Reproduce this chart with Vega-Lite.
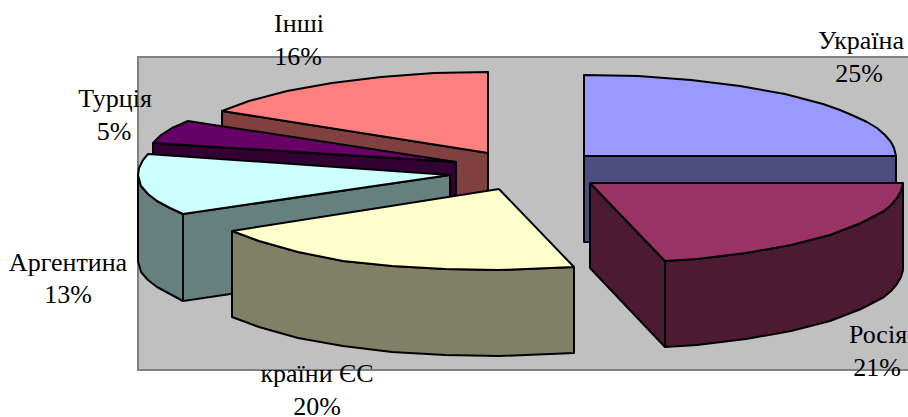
{"$schema":"https://vega.github.io/schema/vega-lite/v6.json","width":908,"height":417,"padding":0,"autosize":{"type":"none"},"background":"white","view":{"stroke":null},
"datasets":{"panel":[{"x":138,"x2":909,"y":57,"y2":370}],
"faces":[
{"face":"Україна бік","i":0,"x":584,"y":156},{"face":"Україна бік","i":1,"x":896,"y":156},{"face":"Україна бік","i":2,"x":896,"y":243},{"face":"Україна бік","i":3,"x":584,"y":242},{"face":"Україна бік","i":4,"x":584,"y":156},
{"face":"Україна верх","i":0,"x":584,"y":156},{"face":"Україна верх","i":1,"x":584,"y":75},{"face":"Україна верх","i":2,"x":638,"y":76},{"face":"Україна верх","i":3,"x":691,"y":80},{"face":"Україна верх","i":4,"x":740,"y":86},{"face":"Україна верх","i":5,"x":785,"y":94},{"face":"Україна верх","i":6,"x":823,"y":104},{"face":"Україна верх","i":7,"x":840,"y":110},{"face":"Україна верх","i":8,"x":854,"y":116},{"face":"Україна верх","i":9,"x":867,"y":122},{"face":"Україна верх","i":10,"x":877,"y":128},{"face":"Україна верх","i":11,"x":885,"y":135},{"face":"Україна верх","i":12,"x":891,"y":142},{"face":"Україна верх","i":13,"x":894,"y":148},{"face":"Україна верх","i":14,"x":896,"y":156},{"face":"Україна верх","i":15,"x":584,"y":156},
{"face":"Інші бік","i":0,"x":222,"y":111},{"face":"Інші бік","i":1,"x":488,"y":153},{"face":"Інші бік","i":2,"x":488,"y":205},{"face":"Інші бік","i":3,"x":222,"y":165},{"face":"Інші бік","i":4,"x":222,"y":111},
{"face":"Інші верх","i":0,"x":488,"y":153},{"face":"Інші верх","i":1,"x":488,"y":72},{"face":"Інші верх","i":2,"x":434,"y":73},{"face":"Інші верх","i":3,"x":381,"y":77},{"face":"Інші верх","i":4,"x":332,"y":83},{"face":"Інші верх","i":5,"x":287,"y":91},{"face":"Інші верх","i":6,"x":249,"y":101},{"face":"Інші верх","i":7,"x":222,"y":111},{"face":"Інші верх","i":8,"x":488,"y":153},
{"face":"Турція бік","i":0,"x":153,"y":143},{"face":"Турція бік","i":1,"x":456,"y":162},{"face":"Турція бік","i":2,"x":456,"y":205},{"face":"Турція бік","i":3,"x":153,"y":186},{"face":"Турція бік","i":4,"x":153,"y":143},
{"face":"Турція верх","i":0,"x":456,"y":162},{"face":"Турція верх","i":1,"x":188,"y":121},{"face":"Турція верх","i":2,"x":172,"y":128},{"face":"Турція верх","i":3,"x":161,"y":135},{"face":"Турція верх","i":4,"x":153,"y":143},{"face":"Турція верх","i":5,"x":456,"y":162},
{"face":"Аргентина бік","i":0,"x":138,"y":175},{"face":"Аргентина бік","i":1,"x":141,"y":186},{"face":"Аргентина бік","i":2,"x":148,"y":194},{"face":"Аргентина бік","i":3,"x":157,"y":201},{"face":"Аргентина бік","i":4,"x":170,"y":208},{"face":"Аргентина бік","i":5,"x":183,"y":214},{"face":"Аргентина бік","i":6,"x":183,"y":301},{"face":"Аргентина бік","i":7,"x":170,"y":294},{"face":"Аргентина бік","i":8,"x":157,"y":287},{"face":"Аргентина бік","i":9,"x":148,"y":280},{"face":"Аргентина бік","i":10,"x":141,"y":272},{"face":"Аргентина бік","i":11,"x":138,"y":261},{"face":"Аргентина бік","i":12,"x":138,"y":175},
{"face":"Аргентина перед","i":0,"x":183,"y":214},{"face":"Аргентина перед","i":1,"x":450,"y":175},{"face":"Аргентина перед","i":2,"x":450,"y":262},{"face":"Аргентина перед","i":3,"x":183,"y":301},{"face":"Аргентина перед","i":4,"x":183,"y":214},
{"face":"Аргентина верх","i":0,"x":450,"y":175},{"face":"Аргентина верх","i":1,"x":148,"y":154},{"face":"Аргентина верх","i":2,"x":143,"y":160},{"face":"Аргентина верх","i":3,"x":139,"y":168},{"face":"Аргентина верх","i":4,"x":138,"y":175},{"face":"Аргентина верх","i":5,"x":141,"y":186},{"face":"Аргентина верх","i":6,"x":148,"y":194},{"face":"Аргентина верх","i":7,"x":157,"y":201},{"face":"Аргентина верх","i":8,"x":170,"y":208},{"face":"Аргентина верх","i":9,"x":183,"y":214},{"face":"Аргентина верх","i":10,"x":450,"y":175},
{"face":"ЄС бік","i":0,"x":232,"y":231},{"face":"ЄС бік","i":1,"x":259,"y":241},{"face":"ЄС бік","i":2,"x":298,"y":252},{"face":"ЄС бік","i":3,"x":343,"y":261},{"face":"ЄС бік","i":4,"x":392,"y":266},{"face":"ЄС бік","i":5,"x":445,"y":269},{"face":"ЄС бік","i":6,"x":499,"y":270},{"face":"ЄС бік","i":7,"x":574,"y":267},{"face":"ЄС бік","i":8,"x":574,"y":353},{"face":"ЄС бік","i":9,"x":499,"y":356},{"face":"ЄС бік","i":10,"x":445,"y":355},{"face":"ЄС бік","i":11,"x":392,"y":352},{"face":"ЄС бік","i":12,"x":343,"y":346},{"face":"ЄС бік","i":13,"x":298,"y":338},{"face":"ЄС бік","i":14,"x":259,"y":327},{"face":"ЄС бік","i":15,"x":232,"y":317},{"face":"ЄС бік","i":16,"x":232,"y":231},
{"face":"ЄС верх","i":0,"x":499,"y":189},{"face":"ЄС верх","i":1,"x":232,"y":231},{"face":"ЄС верх","i":2,"x":259,"y":241},{"face":"ЄС верх","i":3,"x":298,"y":252},{"face":"ЄС верх","i":4,"x":343,"y":261},{"face":"ЄС верх","i":5,"x":392,"y":266},{"face":"ЄС верх","i":6,"x":445,"y":269},{"face":"ЄС верх","i":7,"x":499,"y":270},{"face":"ЄС верх","i":8,"x":574,"y":267},{"face":"ЄС верх","i":9,"x":499,"y":189},
{"face":"Росія лівий бік","i":0,"x":590,"y":183},{"face":"Росія лівий бік","i":1,"x":665,"y":261},{"face":"Росія лівий бік","i":2,"x":665,"y":347},{"face":"Росія лівий бік","i":3,"x":590,"y":268},{"face":"Росія лівий бік","i":4,"x":590,"y":183},
{"face":"Росія бік","i":0,"x":903,"y":183},{"face":"Росія бік","i":1,"x":901,"y":191},{"face":"Росія бік","i":2,"x":897,"y":198},{"face":"Росія бік","i":3,"x":891,"y":205},{"face":"Росія бік","i":4,"x":884,"y":211},{"face":"Росія бік","i":5,"x":861,"y":223},{"face":"Росія бік","i":6,"x":830,"y":235},{"face":"Росія бік","i":7,"x":791,"y":245},{"face":"Росія бік","i":8,"x":746,"y":253},{"face":"Росія бік","i":9,"x":697,"y":259},{"face":"Росія бік","i":10,"x":665,"y":261},{"face":"Росія бік","i":11,"x":665,"y":347},{"face":"Росія бік","i":12,"x":697,"y":345},{"face":"Росія бік","i":13,"x":746,"y":339},{"face":"Росія бік","i":14,"x":791,"y":331},{"face":"Росія бік","i":15,"x":830,"y":321},{"face":"Росія бік","i":16,"x":861,"y":309},{"face":"Росія бік","i":17,"x":884,"y":297},{"face":"Росія бік","i":18,"x":891,"y":291},{"face":"Росія бік","i":19,"x":897,"y":284},{"face":"Росія бік","i":20,"x":901,"y":277},{"face":"Росія бік","i":21,"x":903,"y":270},{"face":"Росія бік","i":22,"x":903,"y":183},
{"face":"Росія верх","i":0,"x":590,"y":183},{"face":"Росія верх","i":1,"x":903,"y":183},{"face":"Росія верх","i":2,"x":901,"y":191},{"face":"Росія верх","i":3,"x":897,"y":198},{"face":"Росія верх","i":4,"x":891,"y":205},{"face":"Росія верх","i":5,"x":884,"y":211},{"face":"Росія верх","i":6,"x":861,"y":223},{"face":"Росія верх","i":7,"x":830,"y":235},{"face":"Росія верх","i":8,"x":791,"y":245},{"face":"Росія верх","i":9,"x":746,"y":253},{"face":"Росія верх","i":10,"x":697,"y":259},{"face":"Росія верх","i":11,"x":665,"y":261},{"face":"Росія верх","i":12,"x":590,"y":183}
],
"labels":[{"t":"Інші","x":299,"y":32},{"t":"16%","x":298,"y":65},{"t":"Україна","x":861,"y":49},{"t":"25%","x":859,"y":82},{"t":"Турція","x":115,"y":107},{"t":"5%","x":114,"y":140},{"t":"Аргентина","x":68,"y":271},{"t":"13%","x":68,"y":303},{"t":"Росія","x":878,"y":343},{"t":"21%","x":877,"y":376},{"t":"країни ЄС","x":317,"y":382},{"t":"20%","x":317,"y":415}]},
"layer":[
{"data":{"name":"panel"},"mark":{"type":"rect","fill":"#C0C0C0","stroke":"#808080","strokeWidth":2},"encoding":{"x":{"field":"x","type":"quantitative","scale":{"domain":[0,908],"range":[0,908]},"axis":null},"x2":{"field":"x2"},"y":{"field":"y","type":"quantitative","scale":{"domain":[0,417],"range":[0,417]},"axis":null},"y2":{"field":"y2"}}},
{"data":{"name":"faces"},"mark":{"type":"line","stroke":"black","strokeWidth":2,"strokeJoin":"round","clip":false},"encoding":{"x":{"field":"x","type":"quantitative","scale":{"domain":[0,908],"range":[0,908]},"axis":null},"y":{"field":"y","type":"quantitative","scale":{"domain":[0,417],"range":[0,417]},"axis":null},"order":{"field":"i","type":"quantitative"},"fill":{"field":"face","type":"nominal","legend":null,"sort":null,"scale":{"domain":["Україна бік","Україна верх","Інші бік","Інші верх","Турція бік","Турція верх","Аргентина бік","Аргентина перед","Аргентина верх","ЄС бік","ЄС верх","Росія лівий бік","Росія бік","Росія верх"],"range":["#4D4D80","#9999FF","#804040","#FF8080","#330033","#660066","#668080","#668080","#CCFFFF","#808066","#FFFFCC","#4D1A33","#4D1A33","#993366"]}}}},
{"data":{"name":"labels"},"mark":{"type":"text","font":"Times New Roman, Liberation Serif, serif","fontSize":26,"color":"black","align":"center","baseline":"alphabetic"},"encoding":{"x":{"field":"x","type":"quantitative","scale":{"domain":[0,908],"range":[0,908]},"axis":null},"y":{"field":"y","type":"quantitative","scale":{"domain":[0,417],"range":[0,417]},"axis":null},"text":{"field":"t","type":"nominal"}}}
]}
